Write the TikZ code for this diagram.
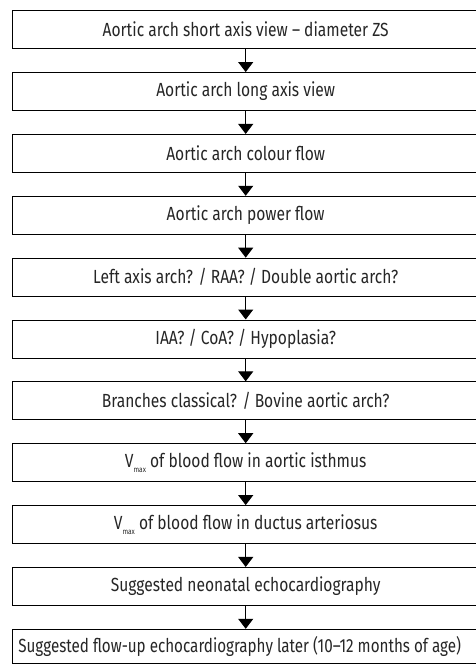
\documentclass[tikz,border=0pt]{standalone}
\usepackage{fontspec}
\setmainfont[FakeStretch=0.82]{Fira Sans}
\usetikzlibrary{arrows.meta}
\begin{document}
\begin{tikzpicture}[x=1pt,y=-1pt,
  flowbox/.style={draw=black, line width=1pt, minimum width=467.4pt, inner sep=0pt,
    font=\fontsize{19pt}{21pt}\selectfont, text=black!85},
  flowarrow/.style={line width=1pt, -{Triangle[width=15pt,length=10pt]}}]
\useasboundingbox (0,0) rectangle (476,664);
\newcommand{\vmx}{V\raisebox{-5pt}{\fontsize{8pt}{9pt}\selectfont max}}
\foreach \i/\t in {0/{Aortic arch short axis view -- diameter ZS},
                   1/{Aortic arch long axis view},
                   2/{Aortic arch colour flow},
                   3/{Aortic arch power flow},
                   4/{Left axis arch? / RAA? / Double aortic arch?},
                   5/{IAA? / CoA? / Hypoplasia?},
                   6/{Branches classical? / Bovine aortic arch?},
                   7/{\vmx\ of blood flow in aortic isthmus},
                   8/{\vmx\ of blood flow in ductus arteriosus},
                   9/{Suggested neonatal echocardiography}}
  \node[flowbox, minimum height=38pt] (b\i) at (245.7, {10.7+61.86*\i+19}) {\t};
\node[flowbox, minimum height=34.2pt] (b10) at (245.7, 646.4)
  {\hspace*{-12pt}\addfontfeature{FakeStretch=0.80}Suggested flow-up echocardiography later (10--12 months of age)};
\foreach \i [evaluate=\i as \j using int(\i+1)] in {0,...,9}
  \draw[flowarrow] (b\i.south) -- (b\j.north);
\end{tikzpicture}
\end{document}
